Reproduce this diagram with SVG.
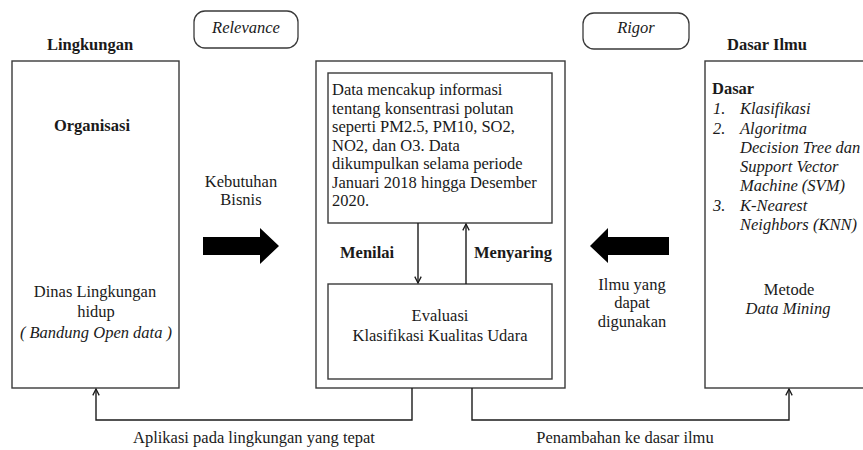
<svg xmlns="http://www.w3.org/2000/svg" width="863" height="450" viewBox="0 0 863 450">
<style>
  text { font-family: "Liberation Serif", "Times New Roman", serif; font-size: 16.5px; fill: #1a1a1a; }
  .b { font-weight: bold; }
  .i { font-style: italic; }
  .c { text-anchor: middle; }
  .box { fill: #fff; stroke: #3a3a3a; stroke-width: 1.4; }
  .pill { fill: #fff; stroke: #3a3a3a; stroke-width: 1.3; }
  .ln { fill: none; stroke: #1a1a1a; stroke-width: 1.4; }
  .big { fill: #000; }
</style>
<defs>
  <marker id="oa" viewBox="0 0 10 10" refX="9" refY="5" markerWidth="8" markerHeight="8" markerUnits="userSpaceOnUse" orient="auto">
    <path d="M1,1 L9,5 L1,9" fill="none" stroke="#1a1a1a" stroke-width="1.6"/>
  </marker>
</defs>
<rect width="863" height="450" fill="#fff"/>

<g id="relevance">
  <rect class="pill" x="194" y="11" width="104" height="37" rx="11"/>
  <text class="i c" x="246" y="33">Relevance</text>
</g>
<g id="rigor">
  <rect class="pill" x="583" y="13" width="106" height="36" rx="11"/>
  <text class="i c" x="636" y="33">Rigor</text>
</g>

<g id="lingkungan">
  <text class="b c" x="90" y="50">Lingkungan</text>
  <rect class="box" x="12" y="61" width="167" height="327"/>
  <text class="b c" x="92" y="131">Organisasi</text>
  <text class="c" x="95" y="297">Dinas Lingkungan</text>
  <text class="c" x="96" y="317">hidup</text>
  <text class="i c" x="96" y="338">( Bandung Open data )</text>
</g>

<g id="dasar-ilmu">
  <text class="b c" x="767" y="50">Dasar Ilmu</text>
  <rect class="box" x="705" y="61" width="170" height="327"/>
  <text class="b" x="712" y="94">Dasar</text>
  <text class="i" x="713" y="114">1.</text><text class="i" x="740" y="114">Klasifikasi</text>
  <text class="i" x="713" y="134">2.</text><text class="i" x="740" y="134">Algoritma</text>
  <text class="i" x="740" y="153">Decision Tree dan</text>
  <text class="i" x="740" y="172">Support Vector</text>
  <text class="i" x="740" y="191">Machine (SVM)</text>
  <text class="i" x="713" y="211">3.</text><text class="i" x="740" y="211">K-Nearest</text>
  <text class="i" x="740" y="230">Neighbors (KNN)</text>
  <text class="c" x="789" y="295">Metode</text>
  <text class="i c" x="788" y="314">Data Mining</text>
</g>

<g id="penelitian">
  <rect class="box" x="316" y="61" width="249" height="327"/>
</g>
<g id="data">
  <rect class="box" x="328" y="73" width="224" height="150"/>
  <text x="332" y="95">Data mencakup informasi</text>
  <text x="332" y="113.5">tentang konsentrasi polutan</text>
  <text x="332" y="132">seperti PM2.5, PM10, SO2,</text>
  <text x="332" y="150.5">NO2, dan O3. Data</text>
  <text x="332" y="169">dikumpulkan selama periode</text>
  <text x="332" y="187.5">Januari 2018 hingga Desember</text>
  <text x="332" y="206">2020.</text>
</g>
<g id="evaluasi">
  <rect class="box" x="328" y="284" width="224" height="95"/>
  <text class="c" x="440" y="321">Evaluasi</text>
  <text class="c" x="440" y="341">Klasifikasi Kualitas Udara</text>
</g>

<g id="kebutuhan">
  <text class="c" x="241" y="187">Kebutuhan</text>
  <text class="c" x="241" y="205">Bisnis</text>
  <path class="big" d="M203,237 H260 V228 L279,246 L260,264 V255 H203 Z"/>
</g>
<g id="ilmu">
  <path class="big" d="M669,237 H608 V228 L590,246 L608,263 V255 H669 Z"/>
  <text class="c" x="632" y="290">Ilmu yang</text>
  <text class="c" x="632" y="308">dapat</text>
  <text class="c" x="632" y="327">digunakan</text>
</g>

<g id="connectors">
  <line class="ln" x1="418" y1="223" x2="418" y2="283" marker-end="url(#oa)"/>
  <line class="ln" x1="466" y1="284" x2="466" y2="224" marker-end="url(#oa)"/>
  <polyline class="ln" points="412,388 412,420 96,420 96,389" marker-end="url(#oa)"/>
  <polyline class="ln" points="472,388 472,420 789,420 789,389" marker-end="url(#oa)"/>
  <text class="b" x="340" y="258">Menilai</text>
  <text class="b" x="474" y="258">Menyaring</text>
  <text class="c" x="254" y="443">Aplikasi pada lingkungan yang tepat</text>
  <text class="c" x="625" y="443">Penambahan ke dasar ilmu</text>
</g>
</svg>
